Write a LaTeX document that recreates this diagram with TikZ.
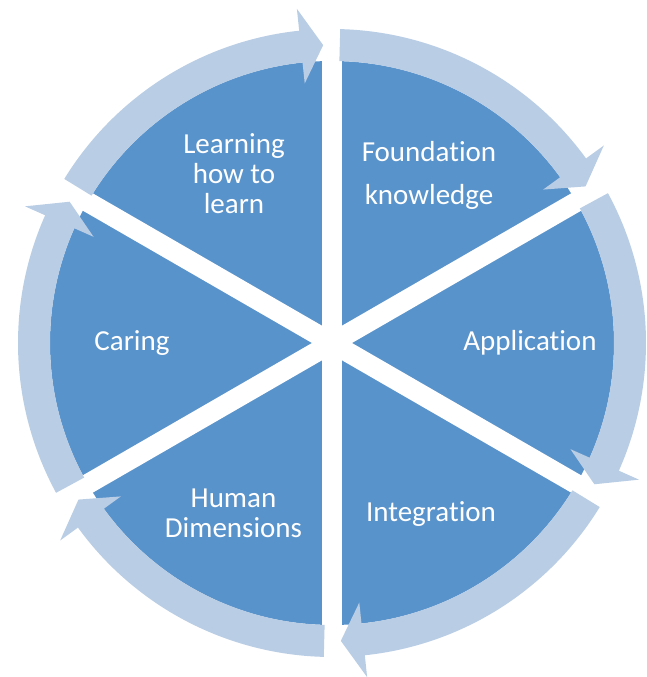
\documentclass[tikz,border=0pt]{standalone}
\usepackage{fontspec}
\setmainfont[Ligatures=NoCommon]{Carlito}
\usepackage{tikz}
\definecolor{segblue}{RGB}{89,147,203}
\definecolor{bandblue}{RGB}{185,205,228}

\begin{document}
\begin{tikzpicture}[x=1pt,y=1pt,
    lbl/.style={text=white,align=center,font=\fontsize{29}{30}\selectfont},
    gap/.style={white,line width=20pt},
    band/.style={fill=bandblue}]
  \useasboundingbox (0,0) rectangle (646,677);
  \coordinate (hub) at (332,334);
  \begin{scope}[shift={(hub)}]
    % blue disc, cut by three white gaps
    \fill[segblue] (0,0) circle[radius=282];
    \draw[gap] (90:290) -- (270:290);
    \draw[gap] (30:290) -- (210:290);
    \draw[gap] (150:290) -- (330:290);
    % curved arrows round the rim
    \foreach \b in {90,30,-30,-90,-150,150} {
      \fill[band] ({\b+58.5}:314) arc[start angle=\b+58.5, end angle=\b+6, radius=314]
        -- ({\b+6}:336) -- ({\b+1.7}:298) -- ({\b+6}:261) -- ({\b+6}:282)
        arc[start angle=\b+6, end angle=\b+58.5, radius=282] -- cycle;
    }
    \node[lbl] (lhl) at (120:196) {Learning\\how to\\learn};
    \node[lbl] (fk) at (60:194) {Foundation\\[13pt]knowledge};
    \node[lbl] (app) at (0:198) {Application};
    \node[lbl] (integ) at (-60:198) {Integration};
    \node[lbl] (hd) at (-120:197) {Human\\Dimensions};
    \node[lbl] (car) at (180:200) {Caring};
  \end{scope}
\end{tikzpicture}
\end{document}
